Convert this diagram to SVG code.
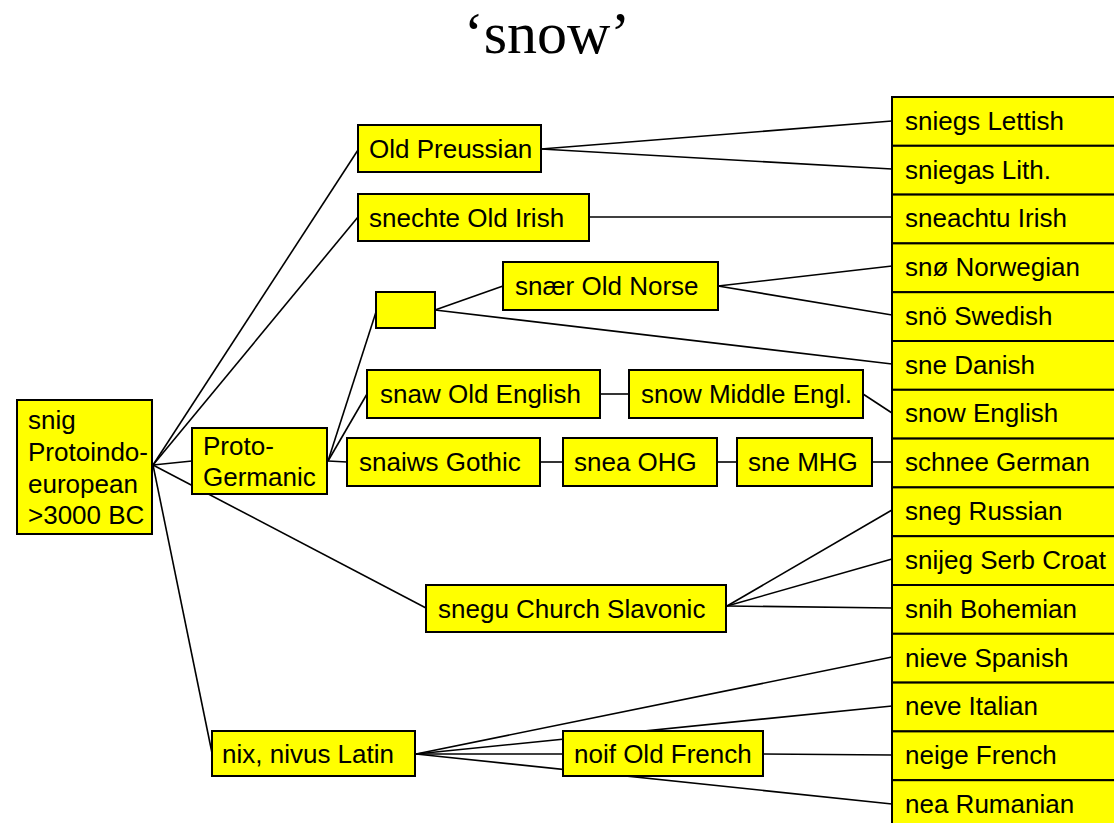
<svg xmlns="http://www.w3.org/2000/svg" width="1114" height="823" viewBox="0 0 1114 823">
  <style>
    .box { fill: #ffff00; stroke: #000; stroke-width: 2; }
    .lbl { font-family: "Liberation Sans", Arial, sans-serif; font-size: 26px; fill: #000; }
    .title { font-family: "Liberation Serif", "Times New Roman", serif; font-size: 60px; fill: #000; }
    #connectors line { stroke: #000; stroke-width: 1.6; }
  </style>
  <rect width="1114" height="823" fill="#fff"/>

  <text class="title" x="547" y="53" text-anchor="middle">‘snow’</text>

  <!-- connectors -->
  <g id="connectors">
    <!-- from Proto-Indo-European -->
    <line x1="153" y1="465" x2="358" y2="150"/>
    <line x1="153" y1="465" x2="358" y2="217"/>
    <line x1="153" y1="465" x2="192" y2="461"/>
    <line x1="153" y1="465" x2="426" y2="608"/>
    <line x1="153" y1="465" x2="212" y2="753"/>
    <!-- Old Prussian / Old Irish -->
    <line x1="541" y1="149" x2="892" y2="121"/>
    <line x1="541" y1="149" x2="892" y2="169"/>
    <line x1="589" y1="217" x2="892" y2="217"/>
    <!-- Proto-Germanic -->
    <line x1="328" y1="461" x2="376" y2="312"/>
    <line x1="328" y1="461" x2="367" y2="394"/>
    <line x1="328" y1="461" x2="347" y2="462"/>
    <!-- North Germanic -->
    <line x1="435" y1="310" x2="503" y2="286"/>
    <line x1="435" y1="310" x2="892" y2="364"/>
    <line x1="718" y1="286" x2="892" y2="266"/>
    <line x1="718" y1="286" x2="892" y2="315"/>
    <!-- English -->
    <line x1="600" y1="394" x2="629" y2="394"/>
    <line x1="863" y1="394" x2="892" y2="413"/>
    <!-- Gothic / High German chain -->
    <line x1="540" y1="462" x2="563" y2="462"/>
    <line x1="717" y1="462" x2="737" y2="462"/>
    <line x1="872" y1="462" x2="892" y2="462"/>
    <!-- Slavonic -->
    <line x1="727" y1="606" x2="892" y2="510"/>
    <line x1="727" y1="606" x2="892" y2="559"/>
    <line x1="727" y1="606" x2="892" y2="608"/>
    <!-- Latin -->
    <line x1="416" y1="754" x2="892" y2="657"/>
    <line x1="416" y1="754" x2="892" y2="706"/>
    <line x1="416" y1="754" x2="563" y2="754"/>
    <line x1="416" y1="754" x2="892" y2="804"/>
    <line x1="763" y1="754" x2="892" y2="755"/>
  </g>

  <!-- ancestor -->
  <g id="pie">
    <rect class="box" x="17" y="400" width="135" height="134"/>
    <text class="lbl" x="28" y="429">snig</text>
    <text class="lbl" x="28" y="461">Protoindo-</text>
    <text class="lbl" x="28" y="493">european</text>
    <text class="lbl" x="28" y="524">&gt;3000 BC</text>
  </g>

  <!-- intermediate languages -->
  <g id="old-preussian">
    <rect class="box" x="358" y="125" width="183" height="47"/>
    <text class="lbl" x="369" y="158">Old Preussian</text>
  </g>
  <g id="old-irish">
    <rect class="box" x="358" y="194" width="231" height="47"/>
    <text class="lbl" x="369" y="227">snechte Old Irish</text>
  </g>
  <g id="proto-norse">
    <rect class="box" x="376" y="292" width="59" height="36"/>
  </g>
  <g id="old-norse">
    <rect class="box" x="503" y="262" width="215" height="48"/>
    <text class="lbl" x="515" y="295">snær Old Norse</text>
  </g>
  <g id="proto-germanic">
    <rect class="box" x="192" y="428" width="135" height="66"/>
    <text class="lbl" x="203" y="455">Proto-</text>
    <text class="lbl" x="203" y="486">Germanic</text>
  </g>
  <g id="old-english">
    <rect class="box" x="367" y="370" width="233" height="48"/>
    <text class="lbl" x="380" y="403">snaw Old English</text>
  </g>
  <g id="middle-english">
    <rect class="box" x="629" y="370" width="234" height="48"/>
    <text class="lbl" x="641" y="403">snow Middle Engl.</text>
  </g>
  <g id="gothic">
    <rect class="box" x="347" y="438" width="193" height="48"/>
    <text class="lbl" x="359" y="471">snaiws Gothic</text>
  </g>
  <g id="ohg">
    <rect class="box" x="563" y="438" width="154" height="48"/>
    <text class="lbl" x="574" y="471">snea OHG</text>
  </g>
  <g id="mhg">
    <rect class="box" x="737" y="438" width="135" height="48"/>
    <text class="lbl" x="748" y="471">sne MHG</text>
  </g>
  <g id="church-slavonic">
    <rect class="box" x="426" y="585" width="300" height="47"/>
    <text class="lbl" x="438" y="618">snegu Church Slavonic</text>
  </g>
  <g id="latin">
    <rect class="box" x="212" y="731" width="203" height="45"/>
    <text class="lbl" x="222" y="763">nix, nivus Latin</text>
  </g>
  <g id="old-french">
    <rect class="box" x="563" y="731" width="200" height="45"/>
    <text class="lbl" x="574" y="763">noif Old French</text>
  </g>

  <!-- modern languages -->
  <g id="lettish"><rect class="box" x="892" y="97" width="260" height="48.8"/><text class="lbl" x="905" y="130">sniegs Lettish</text></g>
  <g id="lithuanian"><rect class="box" x="892" y="145.8" width="260" height="48.8"/><text class="lbl" x="905" y="179">sniegas Lith.</text></g>
  <g id="irish"><rect class="box" x="892" y="194.6" width="260" height="48.8"/><text class="lbl" x="905" y="227">sneachtu Irish</text></g>
  <g id="norwegian"><rect class="box" x="892" y="243.4" width="260" height="48.8"/><text class="lbl" x="905" y="276">snø Norwegian</text></g>
  <g id="swedish"><rect class="box" x="892" y="292.2" width="260" height="48.8"/><text class="lbl" x="905" y="325">snö Swedish</text></g>
  <g id="danish"><rect class="box" x="892" y="341" width="260" height="48.8"/><text class="lbl" x="905" y="374">sne Danish</text></g>
  <g id="english"><rect class="box" x="892" y="389.8" width="260" height="48.8"/><text class="lbl" x="905" y="422">snow English</text></g>
  <g id="german"><rect class="box" x="892" y="438.6" width="260" height="48.8"/><text class="lbl" x="905" y="471">schnee German</text></g>
  <g id="russian"><rect class="box" x="892" y="487.4" width="260" height="48.8"/><text class="lbl" x="905" y="520">sneg Russian</text></g>
  <g id="serbo-croat"><rect class="box" x="892" y="536.2" width="260" height="48.8"/><text class="lbl" x="905" y="569">snijeg Serb Croat</text></g>
  <g id="bohemian"><rect class="box" x="892" y="585" width="260" height="48.8"/><text class="lbl" x="905" y="618">snih Bohemian</text></g>
  <g id="spanish"><rect class="box" x="892" y="633.8" width="260" height="48.8"/><text class="lbl" x="905" y="667">nieve Spanish</text></g>
  <g id="italian"><rect class="box" x="892" y="682.6" width="260" height="48.8"/><text class="lbl" x="905" y="715">neve Italian</text></g>
  <g id="french"><rect class="box" x="892" y="731.4" width="260" height="48.8"/><text class="lbl" x="905" y="764">neige French</text></g>
  <g id="rumanian"><rect class="box" x="892" y="780.2" width="260" height="48.8"/><text class="lbl" x="905" y="813">nea Rumanian</text></g>
</svg>
